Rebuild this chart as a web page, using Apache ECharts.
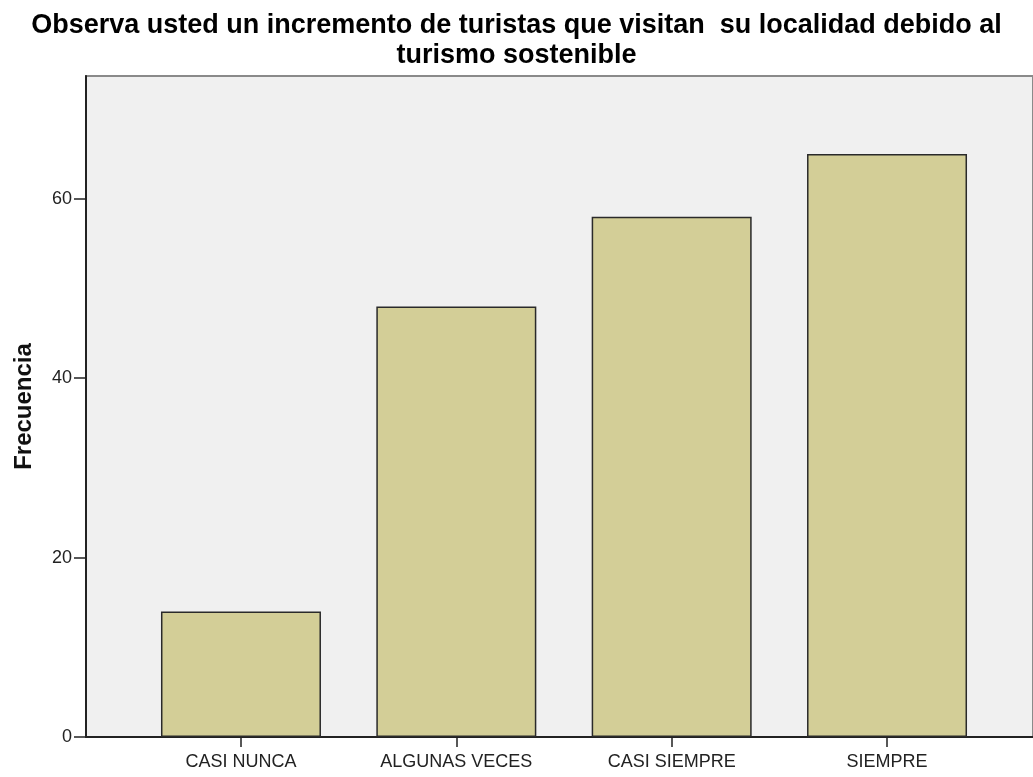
<!DOCTYPE html>
<html>
<head>
<meta charset="utf-8">
<script src="https://cdn.jsdelivr.net/npm/echarts@6/dist/echarts.min.js"></script>
<style>
html,body{margin:0;padding:0;background:#fff;}
#main{width:1033px;height:777px;}
</style>
</head>
<body>
<div id="main"></div>
<script>
var titleText = 'Observa usted un incremento de turistas que visitan  su localidad debido al\nturismo sostenible';
var yAxisName = 'Frecuencia';
var categories = ['CASI NUNCA', 'ALGUNAS VECES', 'CASI SIEMPRE', 'SIEMPRE'];
var frequencies = [14, 48, 58, 65];
var yTicks = [0, 20, 40, 60];

var font = 'Liberation Sans, Arial, sans-serif';
var chart = echarts.init(document.getElementById('main'), null, {renderer: 'canvas'});
var yMax = 73.7;
chart.setOption({
  animation: false,
  backgroundColor: '#ffffff',
  title: {
    text: titleText,
    left: 'center',
    top: 6,
    textStyle: {fontFamily: font, fontSize: 27, fontWeight: 'bold', color: '#000', lineHeight: 30}
  },
  grid: [
    {left: 86, right: -5, top: 76, bottom: 40, show: true, backgroundColor: '#f0f0f0', borderColor: '#8a8a8a', borderWidth: 2, containLabel: false},
    {left: 133.3, right: 38.3, top: 76, bottom: 40, containLabel: false}
  ],
  xAxis: [
    {gridIndex: 0, type: 'value', min: 0, max: 1, show: true,
      axisLine: {show: true, lineStyle: {color: '#222', width: 2}},
      axisTick: {show: false}, axisLabel: {show: false}, splitLine: {show: false}},
    {gridIndex: 1, type: 'category', data: categories,
      axisLine: {show: false},
      axisTick: {show: true, alignWithLabel: true, length: 10, lineStyle: {color: '#222', width: 1.5}},
      axisLabel: {fontFamily: font, fontSize: 18, color: '#222', margin: 16},
      splitLine: {show: false}}
  ],
  yAxis: [
    {gridIndex: 0, type: 'value', min: 0, max: yMax,
      name: yAxisName, nameLocation: 'middle', nameGap: 50, nameRotate: 90,
      nameTextStyle: {fontFamily: font, fontSize: 24, fontWeight: 'bold', color: '#111'},
      axisLine: {show: true, lineStyle: {color: '#222', width: 2}},
      axisTick: {show: true, length: 12, customValues: yTicks, lineStyle: {color: '#222', width: 1.5}},
      axisLabel: {fontFamily: font, fontSize: 18, color: '#222', margin: 14, customValues: yTicks, padding: [6, 0, 0, 0]},
      splitLine: {show: false}},
    {gridIndex: 1, type: 'value', min: 0, max: yMax, show: false, splitLine: {show: false}}
  ],
  series: [{
    type: 'bar',
    xAxisIndex: 1,
    yAxisIndex: 1,
    data: frequencies,
    barWidth: 160,
    itemStyle: {color: '#d3ce97', borderColor: '#2a2a2a', borderWidth: 1.5},
    emphasis: {disabled: true}
  }]
});
</script>
</body>
</html>
